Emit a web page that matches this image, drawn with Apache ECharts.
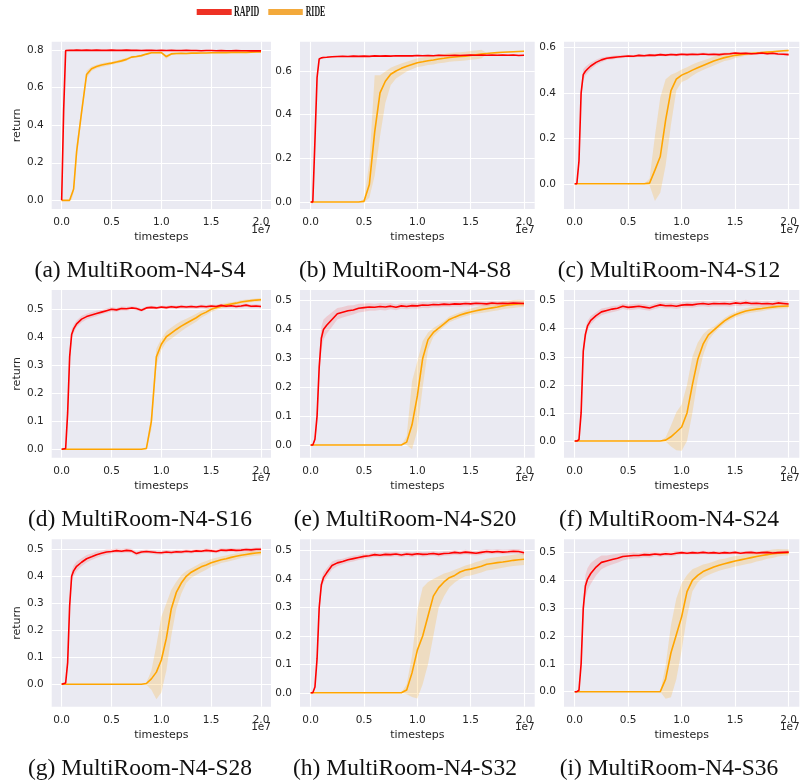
<!DOCTYPE html>
<html>
<head>
<meta charset="utf-8">
<script src="https://cdn.jsdelivr.net/npm/echarts@6/dist/echarts.min.js"></script>
<style>
html,body{margin:0;padding:0;background:#fff;}
#main{width:800px;height:784px;}
</style>
</head>
<body>
<div id="main"></div>
<script>
// ---------------- DATA ----------------
// x positions in units of 1e7 timesteps
const X = [0, 0.02, 0.04, 0.06, 0.08, 0.10, 0.12, 0.15,
  0.20, 0.25, 0.30, 0.35, 0.40, 0.45, 0.50, 0.55, 0.60, 0.65, 0.70, 0.75, 0.80, 0.85, 0.90, 0.95,
  1.00, 1.05, 1.10, 1.15, 1.20, 1.25, 1.30, 1.35, 1.40, 1.45, 1.50, 1.55, 1.60, 1.65, 1.70, 1.75, 1.80, 1.85, 1.90, 1.95, 2.00];

const X_TICKS = [0, 0.5, 1.0, 1.5, 2.0];
const Y_TICKS_08 = [0, 0.2, 0.4, 0.6, 0.8];
const Y_TICKS_06 = [0, 0.2, 0.4, 0.6];
const Y_TICKS_05 = [0, 0.1, 0.2, 0.3, 0.4, 0.5];

const CAPTIONS = ['(a) MultiRoom-N4-S4', '(b) MultiRoom-N4-S8', '(c) MultiRoom-N4-S12',
  '(d) MultiRoom-N4-S16', '(e) MultiRoom-N4-S20', '(f) MultiRoom-N4-S24',
  '(g) MultiRoom-N4-S28', '(h) MultiRoom-N4-S32', '(i) MultiRoom-N4-S36'];
const LEGEND_NAMES = ['RAPID', 'RIDE'];

const Y_MIN = [-0.046, -0.032, -0.111, -0.030, -0.044, -0.0595, -0.083, -0.049, -0.054];
const Y_MAX = [0.844, 0.734, 0.625, 0.569, 0.537, 0.538, 0.537, 0.540, 0.548];

// ---- (a) ----
const rapidA = [0, 0.48, 0.797, 0.798, 0.798, 0.799, 0.798, 0.799,
  0.798, 0.799, 0.798, 0.799, 0.798, 0.798, 0.799, 0.798, 0.798, 0.799, 0.798, 0.798, 0.797, 0.798, 0.798, 0.797,
  0.798, 0.797, 0.798, 0.797, 0.797, 0.798, 0.797, 0.797, 0.796, 0.797, 0.797, 0.796, 0.797, 0.796, 0.796, 0.797, 0.796, 0.796, 0.795, 0.796, 0.795];
const rapidBandA = [0, 0.01, 0.004, 0.003, 0.003, 0.003, 0.003, 0.003,
  0.002, 0.002, 0.002, 0.002, 0.002, 0.002, 0.002, 0.002, 0.002, 0.002, 0.002, 0.002, 0.002, 0.002, 0.002, 0.002,
  0.002, 0.002, 0.002, 0.002, 0.002, 0.002, 0.002, 0.002, 0.002, 0.002, 0.002, 0.002, 0.002, 0.002, 0.002, 0.002, 0.002, 0.002, 0.002, 0.002, 0.002];
const rideA = [0, 0, 0, 0, 0, 0.01, 0.06, 0.26,
  0.47, 0.67, 0.70, 0.712, 0.72, 0.725, 0.73, 0.736, 0.742, 0.75, 0.762, 0.765, 0.77, 0.778, 0.785, 0.785,
  0.786, 0.765, 0.779, 0.781, 0.782, 0.781, 0.783, 0.783, 0.784, 0.784, 0.785, 0.785, 0.786, 0.786, 0.787, 0.787, 0.788, 0.787, 0.788, 0.789, 0.789];
const rideDnA = [0, 0, 0, 0, 0, 0.005, 0.02, 0.04,
  0.03, 0.02, 0.012, 0.01, 0.01, 0.01, 0.008, 0.008, 0.008, 0.008, 0.006, 0.006, 0.006, 0.006, 0.005, 0.005,
  0.005, 0.012, 0.006, 0.005, 0.005, 0.005, 0.005, 0.005, 0.004, 0.004, 0.004, 0.004, 0.004, 0.004, 0.004, 0.004, 0.004, 0.004, 0.004, 0.004, 0.004];
const rideUpA = [0, 0, 0, 0, 0, 0.005, 0.02, 0.04,
  0.03, 0.02, 0.012, 0.01, 0.01, 0.01, 0.008, 0.008, 0.008, 0.008, 0.006, 0.006, 0.006, 0.006, 0.005, 0.005,
  0.005, 0.008, 0.006, 0.005, 0.005, 0.005, 0.005, 0.005, 0.004, 0.004, 0.004, 0.004, 0.004, 0.004, 0.004, 0.004, 0.004, 0.004, 0.004, 0.004, 0.004];

// ---- (b) ----
const rapidB = [0, 0.0, 0.28, 0.57, 0.655, 0.66, 0.662, 0.663,
  0.665, 0.666, 0.667, 0.666, 0.668, 0.667, 0.668, 0.667, 0.669, 0.668, 0.669, 0.668, 0.670, 0.669, 0.670, 0.669,
  0.671, 0.670, 0.671, 0.670, 0.672, 0.671, 0.671, 0.672, 0.671, 0.672, 0.673, 0.672, 0.673, 0.672, 0.673, 0.672, 0.673, 0.672, 0.673, 0.671, 0.672];
const rapidBandB = [0, 0.01, 0.02, 0.01, 0.005, 0.004, 0.004, 0.003,
  0.003, 0.003, 0.003, 0.003, 0.003, 0.003, 0.003, 0.003, 0.003, 0.003, 0.003, 0.003, 0.003, 0.003, 0.003, 0.003,
  0.003, 0.003, 0.003, 0.003, 0.003, 0.003, 0.003, 0.003, 0.003, 0.003, 0.003, 0.003, 0.003, 0.003, 0.003, 0.003, 0.003, 0.003, 0.003, 0.003, 0.003];
const rideB = [0, 0, 0, 0, 0, 0, 0, 0,
  0, 0, 0, 0, 0, 0, 0.003, 0.08, 0.32, 0.5, 0.553, 0.585, 0.6, 0.612, 0.622, 0.63,
  0.638, 0.642, 0.647, 0.65, 0.655, 0.658, 0.662, 0.664, 0.666, 0.668, 0.671, 0.674, 0.677, 0.68, 0.682, 0.684, 0.686, 0.687, 0.688, 0.689, 0.69];
const rideDnB = [0, 0, 0, 0, 0, 0, 0, 0,
  0, 0, 0, 0, 0, 0, 0.005, 0.06, 0.2, 0.2, 0.1, 0.05, 0.035, 0.03, 0.025, 0.022,
  0.02, 0.02, 0.02, 0.02, 0.02, 0.02, 0.02, 0.02, 0.02, 0.02, 0.02, 0.02, 0.02, 0.002, 0.002, 0.002, 0.002, 0.002, 0.002, 0.002, 0.002];
const rideUpB = [0, 0, 0, 0, 0, 0, 0, 0,
  0, 0, 0, 0, 0, 0, 0.01, 0.1, 0.26, 0.08, 0.045, 0.03, 0.025, 0.022, 0.02, 0.02,
  0.02, 0.02, 0.02, 0.02, 0.02, 0.02, 0.02, 0.02, 0.02, 0.02, 0.02, 0.02, 0.02, 0.002, 0.002, 0.002, 0.002, 0.002, 0.002, 0.002, 0.002];

// ---- (c) ----
const rapidC = [0, 0, 0.1, 0.4, 0.48, 0.495, 0.505, 0.518,
  0.534, 0.545, 0.552, 0.555, 0.558, 0.56, 0.562, 0.561, 0.565, 0.563, 0.566, 0.565, 0.568, 0.566, 0.569, 0.567,
  0.57, 0.568, 0.57, 0.569, 0.571, 0.569, 0.57, 0.568, 0.571, 0.572, 0.575, 0.573, 0.574, 0.572, 0.573, 0.575, 0.572, 0.574, 0.571, 0.57, 0.568];
const rapidBandC = [0, 0.005, 0.02, 0.03, 0.025, 0.02, 0.018, 0.015,
  0.012, 0.01, 0.008, 0.008, 0.007, 0.007, 0.006, 0.006, 0.006, 0.006, 0.006, 0.006, 0.006, 0.006, 0.006, 0.006,
  0.006, 0.006, 0.006, 0.006, 0.006, 0.006, 0.006, 0.006, 0.006, 0.006, 0.006, 0.006, 0.006, 0.006, 0.006, 0.006, 0.006, 0.006, 0.006, 0.006, 0.006];
const rideC = [0, 0, 0, 0, 0, 0, 0, 0,
  0, 0, 0, 0, 0, 0, 0, 0, 0, 0, 0.003, 0.06, 0.12, 0.28, 0.41, 0.46,
  0.478, 0.488, 0.5, 0.51, 0.52, 0.53, 0.54, 0.548, 0.555, 0.56, 0.565, 0.568, 0.571, 0.573, 0.575, 0.577, 0.579, 0.581, 0.583, 0.585, 0.586];
const rideDnC = [0, 0, 0, 0, 0, 0, 0, 0,
  0, 0, 0, 0, 0, 0, 0, 0, 0, 0, 0.01, 0.136, 0.16, 0.2, 0.15, 0.05,
  0.03, 0.03, 0.025, 0.02, 0.02, 0.02, 0.02, 0.018, 0.015, 0.015, 0.012, 0.01, 0.008, 0.006, 0.005, 0.005, 0.004, 0.004, 0.004, 0.004, 0.004];
const rideUpC = [0, 0, 0, 0, 0, 0, 0, 0,
  0, 0, 0, 0, 0, 0, 0, 0, 0, 0, 0.02, 0.15, 0.26, 0.18, 0.07, 0.03,
  0.025, 0.025, 0.025, 0.025, 0.022, 0.02, 0.02, 0.02, 0.018, 0.016, 0.014, 0.012, 0.01, 0.008, 0.006, 0.005, 0.004, 0.004, 0.004, 0.004, 0.004];

// ---- (d) ----
const rapidD = [0, 0, 0.003, 0.13, 0.33, 0.41, 0.43, 0.448,
  0.465, 0.474, 0.48, 0.485, 0.49, 0.495, 0.5, 0.498, 0.503, 0.502, 0.505, 0.503, 0.497, 0.505, 0.507, 0.505,
  0.508, 0.506, 0.509, 0.507, 0.51, 0.508, 0.51, 0.508, 0.511, 0.509, 0.512, 0.51, 0.514, 0.511, 0.513, 0.51, 0.512, 0.515, 0.511, 0.512, 0.51];
const rapidBandD = [0, 0, 0.005, 0.03, 0.03, 0.02, 0.015, 0.012,
  0.012, 0.01, 0.01, 0.01, 0.008, 0.008, 0.008, 0.007, 0.007, 0.007, 0.006, 0.006, 0.006, 0.006, 0.006, 0.006,
  0.006, 0.006, 0.006, 0.006, 0.006, 0.006, 0.006, 0.006, 0.006, 0.006, 0.006, 0.006, 0.006, 0.006, 0.006, 0.006, 0.006, 0.006, 0.006, 0.006, 0.006];
const rideD = [0, 0, 0, 0, 0, 0, 0, 0,
  0, 0, 0, 0, 0, 0, 0, 0, 0, 0, 0, 0, 0, 0.003, 0.1, 0.33,
  0.375, 0.402, 0.415, 0.428, 0.44, 0.45, 0.46, 0.47, 0.482, 0.49, 0.5, 0.506, 0.511, 0.515, 0.519, 0.522, 0.526, 0.529, 0.531, 0.533, 0.534];
const rideDnD = [0, 0, 0, 0, 0, 0, 0, 0,
  0, 0, 0, 0, 0, 0, 0, 0, 0, 0, 0, 0, 0, 0.005, 0.03, 0.03,
  0.02, 0.02, 0.02, 0.02, 0.018, 0.016, 0.015, 0.014, 0.012, 0.01, 0.01, 0.008, 0.008, 0.008, 0.006, 0.006, 0.006, 0.006, 0.006, 0.006, 0.006];
const rideUpD = [0, 0, 0, 0, 0, 0, 0, 0,
  0, 0, 0, 0, 0, 0, 0, 0, 0, 0, 0, 0, 0, 0.005, 0.03, 0.03,
  0.02, 0.02, 0.02, 0.02, 0.018, 0.016, 0.015, 0.014, 0.012, 0.01, 0.01, 0.008, 0.008, 0.008, 0.006, 0.006, 0.006, 0.006, 0.006, 0.006, 0.006];

// ---- (e) ----
const rapidE = [0, 0, 0.02, 0.1, 0.27, 0.37, 0.4, 0.415,
  0.435, 0.455, 0.46, 0.465, 0.468, 0.474, 0.476, 0.478, 0.477, 0.48, 0.478, 0.481, 0.477, 0.482, 0.48, 0.483,
  0.482, 0.485, 0.484, 0.487, 0.486, 0.488, 0.487, 0.489, 0.488, 0.49, 0.489, 0.491, 0.49, 0.489, 0.492, 0.49, 0.491, 0.49, 0.492, 0.491, 0.49];
const rapidBandE = [0, 0, 0.01, 0.03, 0.04, 0.04, 0.035, 0.03,
  0.025, 0.02, 0.018, 0.018, 0.016, 0.015, 0.014, 0.013, 0.012, 0.012, 0.012, 0.011, 0.01, 0.01, 0.01, 0.01,
  0.01, 0.01, 0.01, 0.01, 0.01, 0.009, 0.009, 0.009, 0.009, 0.009, 0.009, 0.008, 0.008, 0.008, 0.008, 0.008, 0.008, 0.008, 0.008, 0.008, 0.008];
const rideE = [0, 0, 0, 0, 0, 0, 0, 0,
  0, 0, 0, 0, 0, 0, 0, 0, 0, 0, 0, 0, 0, 0, 0.01, 0.07,
  0.17, 0.3, 0.365, 0.39, 0.405, 0.42, 0.435, 0.443, 0.45, 0.456, 0.461, 0.465, 0.469, 0.472, 0.475, 0.478, 0.482, 0.485, 0.487, 0.489, 0.49];
const rideDnE = [0, 0, 0, 0, 0, 0, 0, 0,
  0, 0, 0, 0, 0, 0, 0, 0, 0, 0, 0, 0, 0, 0, 0.01, 0.085,
  0.12, 0.1, 0.035, 0.015, 0.012, 0.01, 0.01, 0.01, 0.01, 0.01, 0.01, 0.01, 0.012, 0.012, 0.012, 0.012, 0.012, 0.012, 0.012, 0.012, 0.012];
const rideUpE = [0, 0, 0, 0, 0, 0, 0, 0,
  0, 0, 0, 0, 0, 0, 0, 0, 0, 0, 0, 0, 0, 0, 0.02, 0.15,
  0.12, 0.06, 0.025, 0.015, 0.012, 0.01, 0.01, 0.01, 0.01, 0.01, 0.012, 0.012, 0.014, 0.015, 0.015, 0.015, 0.015, 0.015, 0.015, 0.014, 0.012];

// ---- (f) ----
const rapidF = [0, 0, 0.005, 0.1, 0.32, 0.38, 0.41, 0.43,
  0.447, 0.46, 0.465, 0.47, 0.473, 0.48, 0.476, 0.478, 0.48, 0.477, 0.474, 0.48, 0.485, 0.482, 0.483, 0.48,
  0.484, 0.486, 0.485, 0.488, 0.49, 0.487, 0.49, 0.489, 0.49, 0.488, 0.492, 0.49, 0.493, 0.49, 0.491, 0.489, 0.49, 0.488, 0.492, 0.49, 0.488];
const rapidBandF = [0, 0, 0.005, 0.02, 0.02, 0.02, 0.018, 0.015,
  0.012, 0.012, 0.011, 0.011, 0.01, 0.01, 0.01, 0.01, 0.01, 0.01, 0.01, 0.01, 0.01, 0.01, 0.01, 0.01,
  0.01, 0.01, 0.01, 0.01, 0.01, 0.01, 0.01, 0.01, 0.01, 0.01, 0.01, 0.01, 0.01, 0.01, 0.01, 0.01, 0.01, 0.01, 0.01, 0.01, 0.01];
const rideF = [0, 0, 0, 0, 0, 0, 0, 0,
  0, 0, 0, 0, 0, 0, 0, 0, 0, 0, 0, 0, 0, 0.003, 0.015, 0.032,
  0.05, 0.1, 0.2, 0.29, 0.345, 0.378, 0.395, 0.412, 0.428, 0.44, 0.45, 0.457, 0.463, 0.467, 0.47, 0.472, 0.475, 0.477, 0.479, 0.48, 0.481];
const rideDnF = [0, 0, 0, 0, 0, 0, 0, 0,
  0, 0, 0, 0, 0, 0, 0, 0, 0, 0, 0, 0, 0, 0.005, 0.035, 0.065,
  0.085, 0.1, 0.1, 0.07, 0.04, 0.02, 0.012, 0.01, 0.01, 0.01, 0.01, 0.01, 0.01, 0.01, 0.01, 0.01, 0.008, 0.008, 0.008, 0.008, 0.008];
const rideUpF = [0, 0, 0, 0, 0, 0, 0, 0,
  0, 0, 0, 0, 0, 0, 0, 0, 0, 0, 0, 0, 0, 0.01, 0.04, 0.07,
  0.08, 0.1, 0.1, 0.06, 0.035, 0.02, 0.012, 0.01, 0.01, 0.01, 0.01, 0.01, 0.01, 0.01, 0.01, 0.01, 0.008, 0.008, 0.008, 0.008, 0.008];

// ---- (g) ----
const rapidG = [0, 0, 0.005, 0.08, 0.29, 0.4, 0.42, 0.437,
  0.452, 0.465, 0.472, 0.48, 0.485, 0.49, 0.492, 0.495, 0.493, 0.496, 0.494, 0.484, 0.49, 0.492, 0.49, 0.488,
  0.487, 0.49, 0.488, 0.491, 0.49, 0.493, 0.491, 0.494, 0.493, 0.496, 0.494, 0.492, 0.497, 0.496, 0.498, 0.496, 0.497, 0.499, 0.498, 0.5, 0.5];
const rapidBandG = [0, 0, 0.005, 0.02, 0.025, 0.02, 0.02, 0.018,
  0.015, 0.014, 0.012, 0.012, 0.01, 0.01, 0.008, 0.008, 0.008, 0.008, 0.008, 0.008, 0.007, 0.007, 0.007, 0.007,
  0.007, 0.007, 0.007, 0.007, 0.007, 0.007, 0.007, 0.007, 0.007, 0.007, 0.007, 0.007, 0.007, 0.007, 0.007, 0.007, 0.007, 0.007, 0.007, 0.007, 0.007];
const rideG = [0, 0, 0, 0, 0, 0, 0, 0,
  0, 0, 0, 0, 0, 0, 0, 0, 0, 0, 0, 0, 0, 0.003, 0.02, 0.045,
  0.09, 0.17, 0.28, 0.34, 0.375, 0.4, 0.415, 0.425, 0.435, 0.442, 0.45, 0.456, 0.461, 0.465, 0.47, 0.474, 0.478, 0.481, 0.484, 0.486, 0.488];
const rideDnG = [0, 0, 0, 0, 0, 0, 0, 0,
  0, 0, 0, 0, 0, 0, 0, 0, 0, 0, 0, 0, 0, 0.005, 0.04, 0.1,
  0.12, 0.12, 0.1, 0.06, 0.04, 0.025, 0.02, 0.02, 0.02, 0.018, 0.015, 0.014, 0.012, 0.012, 0.012, 0.012, 0.01, 0.01, 0.01, 0.01, 0.01];
const rideUpG = [0, 0, 0, 0, 0, 0, 0, 0,
  0, 0, 0, 0, 0, 0, 0, 0, 0, 0, 0, 0, 0, 0.005, 0.03, 0.1,
  0.16, 0.13, 0.07, 0.04, 0.03, 0.02, 0.015, 0.015, 0.015, 0.015, 0.014, 0.013, 0.012, 0.012, 0.012, 0.01, 0.01, 0.01, 0.01, 0.01, 0.01];

// ---- (h) ----
const rapidH = [0, 0, 0.02, 0.12, 0.3, 0.38, 0.405, 0.422,
  0.448, 0.457, 0.462, 0.468, 0.472, 0.476, 0.48, 0.482, 0.486, 0.484, 0.487, 0.486, 0.488, 0.485, 0.488, 0.486,
  0.489, 0.487, 0.488, 0.49, 0.487, 0.49, 0.491, 0.494, 0.492, 0.495, 0.493, 0.491, 0.494, 0.497, 0.495, 0.497, 0.495, 0.496, 0.498, 0.497, 0.493];
const rapidBandH = [0, 0, 0.008, 0.02, 0.025, 0.02, 0.018, 0.016,
  0.014, 0.012, 0.01, 0.01, 0.01, 0.009, 0.009, 0.008, 0.008, 0.008, 0.008, 0.008, 0.008, 0.008, 0.008, 0.008,
  0.008, 0.008, 0.008, 0.008, 0.008, 0.008, 0.008, 0.008, 0.008, 0.008, 0.008, 0.008, 0.008, 0.008, 0.008, 0.008, 0.008, 0.008, 0.008, 0.008, 0.008];
const rideH = [0, 0, 0, 0, 0, 0, 0, 0,
  0, 0, 0, 0, 0, 0, 0, 0, 0, 0, 0, 0, 0, 0, 0.01, 0.07,
  0.15, 0.2, 0.27, 0.34, 0.37, 0.39, 0.405, 0.413, 0.425, 0.432, 0.435, 0.44, 0.445, 0.452, 0.455, 0.458, 0.46, 0.463, 0.466, 0.468, 0.47];
const rideDnH = [0, 0, 0, 0, 0, 0, 0, 0,
  0, 0, 0, 0, 0, 0, 0, 0, 0, 0, 0, 0, 0, 0, 0.015, 0.085,
  0.17, 0.17, 0.17, 0.14, 0.07, 0.05, 0.035, 0.025, 0.025, 0.022, 0.022, 0.022, 0.022, 0.022, 0.022, 0.022, 0.02, 0.02, 0.02, 0.02, 0.02];
const rideUpH = [0, 0, 0, 0, 0, 0, 0, 0,
  0, 0, 0, 0, 0, 0, 0, 0, 0, 0, 0, 0, 0, 0, 0.02, 0.06,
  0.14, 0.17, 0.12, 0.06, 0.04, 0.03, 0.02, 0.02, 0.015, 0.016, 0.018, 0.02, 0.02, 0.02, 0.02, 0.02, 0.02, 0.02, 0.02, 0.02, 0.02];

// ---- (i) ----
const rapidI = [0, 0, 0.005, 0.1, 0.3, 0.38, 0.405, 0.425,
  0.448, 0.465, 0.47, 0.475, 0.48, 0.486, 0.488, 0.49, 0.49, 0.493, 0.492, 0.495, 0.493, 0.496, 0.494, 0.498,
  0.5, 0.498, 0.5, 0.499, 0.501, 0.499, 0.5, 0.498, 0.5, 0.499, 0.501, 0.498, 0.5, 0.501, 0.499, 0.5, 0.501, 0.499, 0.5, 0.501, 0.502];
const rapidBandI = [0, 0, 0.005, 0.02, 0.04, 0.04, 0.04, 0.038,
  0.03, 0.025, 0.02, 0.018, 0.016, 0.014, 0.012, 0.012, 0.01, 0.01, 0.01, 0.008, 0.008, 0.008, 0.008, 0.008,
  0.006, 0.006, 0.006, 0.006, 0.006, 0.006, 0.006, 0.006, 0.006, 0.006, 0.006, 0.006, 0.006, 0.006, 0.006, 0.006, 0.006, 0.006, 0.006, 0.006, 0.006];
const rideI = [0, 0, 0, 0, 0, 0, 0, 0,
  0, 0, 0, 0, 0, 0, 0, 0, 0, 0, 0, 0, 0, 0.045, 0.14, 0.205,
  0.27, 0.36, 0.4, 0.418, 0.432, 0.44, 0.448, 0.455, 0.46, 0.465, 0.47, 0.474, 0.478, 0.482, 0.486, 0.49, 0.493, 0.496, 0.498, 0.499, 0.5];
const rideDnI = [0, 0, 0, 0, 0, 0, 0, 0,
  0, 0, 0, 0, 0, 0, 0, 0, 0, 0, 0, 0, 0, 0.07, 0.16, 0.16,
  0.12, 0.09, 0.04, 0.025, 0.022, 0.02, 0.02, 0.02, 0.02, 0.02, 0.02, 0.02, 0.02, 0.02, 0.018, 0.018, 0.015, 0.015, 0.012, 0.01, 0.01];
const rideUpI = [0, 0, 0, 0, 0, 0, 0, 0,
  0, 0, 0, 0, 0, 0, 0, 0, 0, 0, 0, 0, 0, 0.05, 0.1, 0.13,
  0.12, 0.06, 0.04, 0.03, 0.025, 0.022, 0.02, 0.02, 0.018, 0.018, 0.018, 0.016, 0.016, 0.016, 0.015, 0.015, 0.015, 0.015, 0.015, 0.013, 0.012];

// ---------------- LAYOUT / STYLE ----------------
const COL_LEFT = [51.7, 300, 564];
const COL_W = [219.3, 234.7, 235.7];
const ROW_TOP = [41.7, 290, 539.3];
const ROW_H = [167.3, 167.7, 167.4];
const CAPTION_X = [140, 405, 669];
const CAPTION_Y = [271, 520, 769];

const RAPID_COLOR = '#ff0000';
const RIDE_COLOR = '#ffa500';
const TXT = '#262626';
const FONT = 'DejaVu Sans';

const panels = [
  [rapidA, rapidBandA, rideA, rideDnA, rideUpA, Y_TICKS_08],
  [rapidB, rapidBandB, rideB, rideDnB, rideUpB, Y_TICKS_06],
  [rapidC, rapidBandC, rideC, rideDnC, rideUpC, Y_TICKS_06],
  [rapidD, rapidBandD, rideD, rideDnD, rideUpD, Y_TICKS_05],
  [rapidE, rapidBandE, rideE, rideDnE, rideUpE, Y_TICKS_05],
  [rapidF, rapidBandF, rideF, rideDnF, rideUpF, Y_TICKS_05],
  [rapidG, rapidBandG, rideG, rideDnG, rideUpG, Y_TICKS_05],
  [rapidH, rapidBandH, rideH, rideDnH, rideUpH, Y_TICKS_05],
  [rapidI, rapidBandI, rideI, rideDnI, rideUpI, Y_TICKS_05]
];

const grids = [], xAxes = [], yAxes = [], series = [], graphics = [];

function bandSeries(k, center, dn, up, fill) {
  return {
    type: 'custom', xAxisIndex: k, yAxisIndex: k, silent: true, z: 1,
    data: [[0, 0]],
    renderItem: function (params, api) {
      const pts = [];
      for (let i = 0; i < X.length; i++) pts.push(api.coord([X[i], center[i] + up[i]]));
      for (let i = X.length - 1; i >= 0; i--) pts.push(api.coord([X[i], center[i] - dn[i]]));
      return { type: 'polygon', shape: { points: pts }, style: { fill: fill } };
    }
  };
}

panels.forEach(function (p, k) {
  const row = Math.floor(k / 3), col = k % 3;
  const [rapid, rapidBand, ride, rideDn, rideUp, yTicks] = p;
  grids.push({
    left: COL_LEFT[col], top: ROW_TOP[row], width: COL_W[col], height: ROW_H[row],
    show: true, backgroundColor: '#eaeaf2', borderWidth: 0
  });
  xAxes.push({
    type: 'value', gridIndex: k, min: -0.1, max: 2.1,
    axisLine: { show: false },
    axisTick: { show: false, customValues: X_TICKS },
    axisLabel: { customValues: X_TICKS, formatter: v => v.toFixed(1), color: TXT, fontSize: 10.5, fontFamily: FONT, margin: 8 },
    splitLine: { show: true, lineStyle: { color: '#ffffff', width: 1.1 } },
    name: 'timesteps', nameLocation: 'middle', nameGap: 23,
    nameTextStyle: { color: TXT, fontSize: 11, fontFamily: FONT }
  });
  const yAx = {
    type: 'value', gridIndex: k, min: Y_MIN[k], max: Y_MAX[k],
    axisLine: { show: false },
    axisTick: { show: false, customValues: yTicks },
    axisLabel: { customValues: yTicks, formatter: v => v.toFixed(1), color: TXT, fontSize: 10.5, fontFamily: FONT, margin: 8 },
    splitLine: { show: true, lineStyle: { color: '#ffffff', width: 1.1 } }
  };
  if (col === 0) {
    yAx.name = 'return';
    yAx.nameLocation = 'middle';
    yAx.nameGap = 29;
    yAx.nameTextStyle = { color: TXT, fontSize: 11, fontFamily: FONT };
  }
  yAxes.push(yAx);

  series.push(bandSeries(k, ride, rideDn, rideUp, 'rgba(255,165,0,0.2)'));
  series.push(bandSeries(k, rapid, rapidBand, rapidBand, 'rgba(255,0,0,0.13)'));
  series.push({
    type: 'line', name: 'RIDE', xAxisIndex: k, yAxisIndex: k, z: 3,
    data: X.map((x, i) => [x, ride[i]]),
    showSymbol: false, symbol: 'none',
    lineStyle: { color: RIDE_COLOR, width: 1.6 }, itemStyle: { color: RIDE_COLOR }
  });
  series.push({
    type: 'line', name: 'RAPID', xAxisIndex: k, yAxisIndex: k, z: 4,
    data: X.map((x, i) => [x, rapid[i]]),
    showSymbol: false, symbol: 'none',
    lineStyle: { color: RAPID_COLOR, width: 1.6 }, itemStyle: { color: RAPID_COLOR }
  });

  // offset text "1e7"
  graphics.push({
    type: 'text', x: COL_LEFT[col] + COL_W[col], y: ROW_TOP[row] + ROW_H[row] + 21,
    style: { text: '1e7', fill: TXT, font: '10.5px "DejaVu Sans"', textAlign: 'right', textVerticalAlign: 'middle' }
  });
  // caption
  graphics.push({
    type: 'text', x: CAPTION_X[col], y: CAPTION_Y[row],
    style: { text: CAPTIONS[k], fill: '#111111', font: '23.5px "Liberation Serif"', textAlign: 'center', textVerticalAlign: 'middle' }
  });
});

// legend
graphics.push({ type: 'rect', shape: { x: 196.7, y: 9, width: 35, height: 6 }, style: { fill: '#ee3124' } });
graphics.push({ type: 'text', x: 234, y: 12, scaleX: 0.57,
  style: { text: LEGEND_NAMES[0], fill: '#1a1a1a', font: 'bold 14px "Liberation Serif"', textAlign: 'left', textVerticalAlign: 'middle' } });
graphics.push({ type: 'rect', shape: { x: 268.3, y: 9, width: 34.5, height: 6 }, style: { fill: '#f3a93b' } });
graphics.push({ type: 'text', x: 305.7, y: 12.5, scaleX: 0.56,
  style: { text: LEGEND_NAMES[1], fill: '#1a1a1a', font: 'bold 14px "Liberation Serif"', textAlign: 'left', textVerticalAlign: 'middle' } });

const chart = echarts.init(document.getElementById('main'), null, { renderer: 'canvas' });
chart.setOption({
  animation: false,
  backgroundColor: '#ffffff',
  grid: grids, xAxis: xAxes, yAxis: yAxes, series: series,
  graphic: graphics
});
</script>
</body>
</html>
